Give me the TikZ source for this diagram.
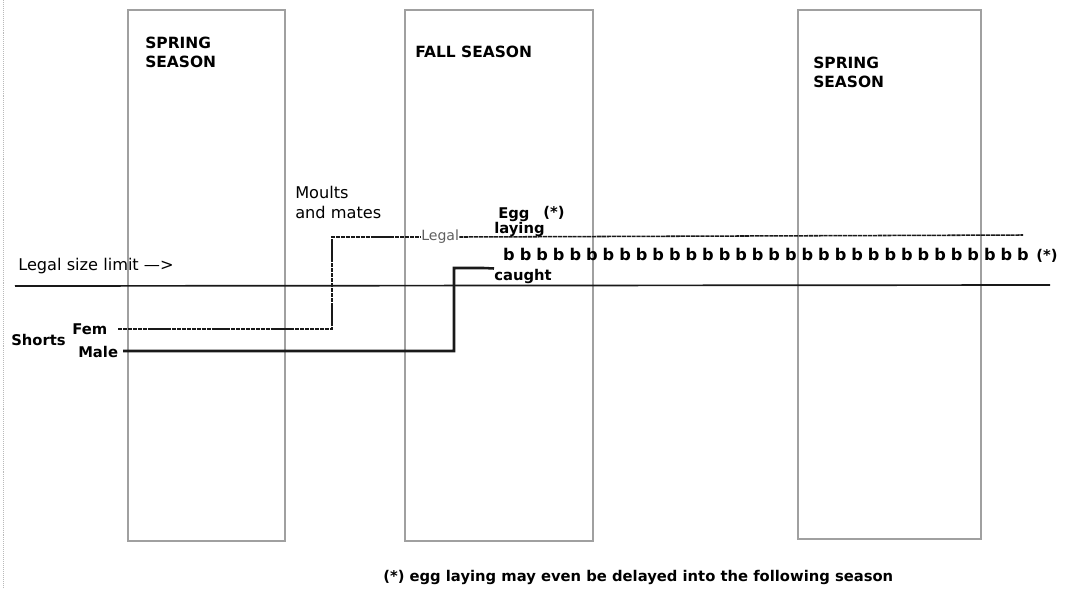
\documentclass[tikz,border=0pt]{standalone}
\usepackage{fontspec}
\setmainfont{DejaVu Sans}
\usepackage{tikz}
\usetikzlibrary{positioning}
\definecolor{Hatch}{RGB}{160,160,160}
\definecolor{Ink}{RGB}{25,25,25}
\definecolor{Faint}{RGB}{185,185,185}
\definecolor{Soft}{RGB}{95,95,95}
\tikzset{
  seasonbox/.style={draw=Hatch,line width=2.1pt},
  season/.style={anchor=north west,inner sep=0pt,align=left,font=\fontsize{11}{13.5}\selectfont\bfseries},
  plaintext/.style={anchor=north west,inner sep=0pt,align=left,font=\fontsize{11.5}{14.2}\selectfont},
  boldtext/.style={anchor=base west,inner sep=0pt,font=\fontsize{10.5}{12}\selectfont\bfseries},
  brood/.style={boldtext,anchor=base,font=\fontsize{11.5}{12}\selectfont\bfseries},
  femline/.style={draw=Ink,line width=1.1pt,dash pattern=on 3pt off 0.5pt},
  maleline/.style={draw=Ink,line width=1.8pt},
  limitline/.style={draw=Ink,line width=1.2pt}
}

\begin{document}
\begin{tikzpicture}[x=0.025cm,y=-0.025cm]
\useasboundingbox (0,0) rectangle (1067,588);
% scan edge
\coordinate (edgeA) at (3,0);
\coordinate (edgeB) at (3,588);
\draw[Faint,densely dotted] (edgeA) -- (edgeB);
% seasons
\draw[seasonbox] (128,10) rectangle (285,541);
\draw[seasonbox] (405,10) rectangle (593,541);
\draw[seasonbox] (798,10) rectangle (981,539);
\node[season] (springA) at (145,37) {SPRING\\SEASON};
\node[season,anchor=base west] (fall) at (415,57) {FALL SEASON};
\node[season] (springB) at (813,57) {SPRING\\SEASON};
% labels
\node[plaintext] (moults) at (295,186) {Moults\\and mates};
\node[plaintext,anchor=base west] (limit) at (18,270) {Legal size limit --->};
\node[boldtext] (shorts) at (11,345) {Shorts};
\node[boldtext] (fem) at (72,334) {Fem};
\node[boldtext] (male) at (78,357) {Male};
\node[boldtext] (egg) at (498,218) {Egg};
\node[boldtext] (eggstar) at (543,217) {(*)};
\node[boldtext] (laying) at (494,233) {laying};
\node[anchor=west,inner sep=0pt,text=Soft,font=\fontsize{10}{12}\selectfont] (legal) at (421,237) {Legal};
\node[boldtext] (caught) at (494,280) {caught};
% breeding row
\foreach \i in {0,...,31}
  \node[brood] (b\i) at (509+\i*16.58,260) {b};
\node[boldtext] (bstar) at (1036,260) {(*)};
% lines
\coordinate (limA) at (15,286);
\coordinate (limB) at (1050,285);
\coordinate (femA) at (118,329);
\coordinate (upend) at (1023,235);
\coordinate (maleA) at (123,351);
\coordinate (maleknee) at (484,268);
\draw[limitline] (limA) -- (limB);
\draw[femline] (femA) -- ++(214,0) |- (legal.west);
\draw[femline] (legal.east) -- (upend);
\draw[maleline] (maleA) -- ++(331,0) |- (maleknee) -- (caught.north west);
% footnote
\node[boldtext] (note) at (383,581) {(*) egg laying may even be delayed into the following season};
\end{tikzpicture}
\end{document}
